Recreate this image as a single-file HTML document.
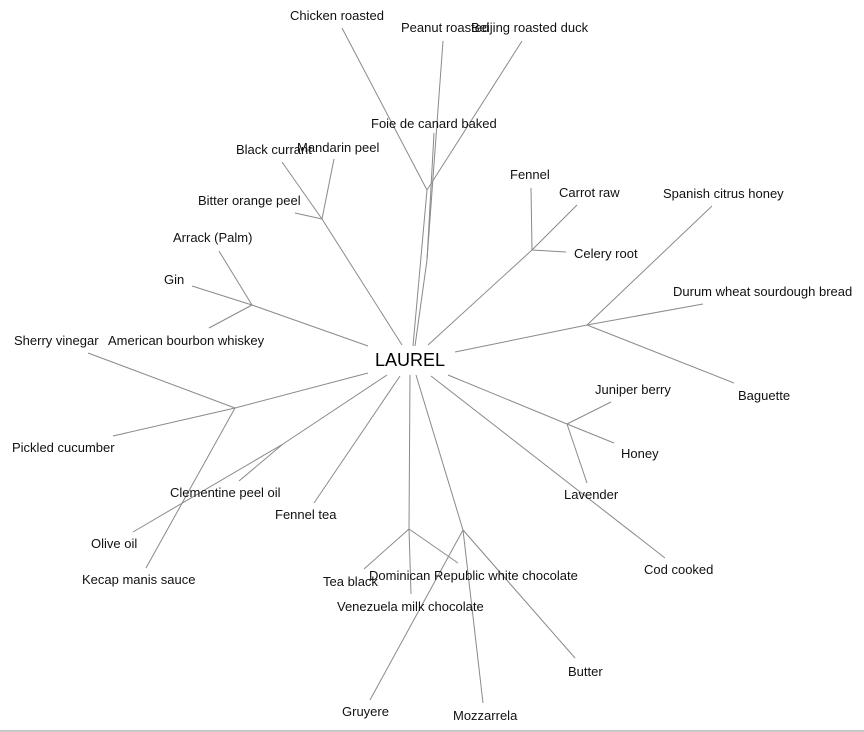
<!DOCTYPE html>
<html>
<head>
<meta charset="utf-8">
<style>
  html, body { margin: 0; padding: 0; background: #ffffff; }
  body { width: 864px; height: 732px; overflow: hidden; }
  svg { display: block; }
  text { font-family: "Liberation Sans", Arial, sans-serif; font-size: 13px; fill: #111; }
  .c { font-size: 18px; fill: #000; }
  line, polyline { stroke: #8a8a8a; stroke-width: 1; fill: none; }
</style>
</head>
<body>
<svg width="864" height="732" viewBox="0 0 864 732" xmlns="http://www.w3.org/2000/svg">
  <rect x="0" y="0" width="864" height="732" fill="#ffffff"/>
  <!-- top group -->
  <line x1="342" y1="28" x2="427" y2="190"/>
  <line x1="522" y1="41" x2="427" y2="190"/>
  <line x1="427" y1="190" x2="413" y2="346"/>
  <line x1="443" y1="41" x2="427" y2="260"/>
  <line x1="434" y1="133" x2="427" y2="260"/>
  <line x1="427" y1="260" x2="415" y2="346"/>
  <!-- mandarin group -->
  <line x1="334" y1="159" x2="322" y2="219"/>
  <line x1="282" y1="162" x2="322" y2="219"/>
  <line x1="295" y1="213" x2="322" y2="219"/>
  <line x1="322" y1="219" x2="402" y2="345"/>
  <!-- gin group -->
  <line x1="192" y1="286" x2="252" y2="305"/>
  <line x1="219" y1="251" x2="252" y2="305"/>
  <line x1="209" y1="328" x2="252" y2="305"/>
  <line x1="252" y1="305" x2="368" y2="346"/>
  <!-- sherry group -->
  <line x1="88" y1="353" x2="235" y2="408"/>
  <line x1="113" y1="436" x2="235" y2="408"/>
  <line x1="146" y1="568" x2="235" y2="408"/>
  <line x1="235" y1="408" x2="368" y2="373"/>
  <!-- clementine -->
  <line x1="387" y1="375" x2="283" y2="444"/>
  <line x1="283" y1="444" x2="133" y2="532"/>
  <line x1="239" y1="481" x2="283" y2="444"/>
  <!-- fennel tea -->
  <line x1="400" y1="376" x2="314" y2="503"/>
  <!-- tea black group -->
  <line x1="410" y1="375" x2="409" y2="529"/>
  <line x1="364" y1="569" x2="409" y2="529"/>
  <line x1="411" y1="594" x2="409" y2="529"/>
  <line x1="458" y1="563" x2="409" y2="529"/>
  <!-- gruyere group -->
  <line x1="416" y1="375" x2="463" y2="530"/>
  <line x1="370" y1="700" x2="463" y2="530"/>
  <line x1="483" y1="703" x2="463" y2="530"/>
  <line x1="575" y1="658" x2="463" y2="530"/>
  <!-- cod -->
  <line x1="431" y1="376" x2="665" y2="558"/>
  <!-- lavender group -->
  <line x1="448" y1="375" x2="567" y2="424"/>
  <line x1="611" y1="402" x2="567" y2="424"/>
  <line x1="614" y1="443" x2="567" y2="424"/>
  <line x1="587" y1="483" x2="567" y2="424"/>
  <!-- durum group -->
  <line x1="455" y1="352" x2="587" y2="325"/>
  <line x1="712" y1="206" x2="587" y2="325"/>
  <line x1="703" y1="304" x2="587" y2="325"/>
  <line x1="734" y1="383" x2="587" y2="325"/>
  <!-- fennel group -->
  <line x1="531" y1="188" x2="532" y2="250"/>
  <line x1="577" y1="205" x2="532" y2="250"/>
  <line x1="566" y1="252" x2="532" y2="250"/>
  <line x1="532" y1="250" x2="428" y2="345"/>

  <!-- center -->
  <text class="c" x="375" y="366">LAUREL</text>

  <!-- labels -->
  <text x="290" y="20">Chicken roasted</text>
  <text x="401" y="32">Peanut roasted</text>
  <text x="471" y="32">Beijing roasted duck</text>
  <text x="371" y="128">Foie de canard baked</text>
  <text x="236" y="154">Black currant</text>
  <text x="297" y="152">Mandarin peel</text>
  <text x="198" y="205">Bitter orange peel</text>
  <text x="173" y="242">Arrack (Palm)</text>
  <text x="164" y="284">Gin</text>
  <text x="14" y="345">Sherry vinegar</text>
  <text x="108" y="345">American bourbon whiskey</text>
  <text x="12" y="452">Pickled cucumber</text>
  <text x="170" y="497">Clementine peel oil</text>
  <text x="275" y="519">Fennel tea</text>
  <text x="91" y="548">Olive oil</text>
  <text x="82" y="584">Kecap manis sauce</text>
  <text x="323" y="586">Tea black</text>
  <text x="369" y="580">Dominican Republic white chocolate</text>
  <text x="337" y="611">Venezuela milk chocolate</text>
  <text x="342" y="716">Gruyere</text>
  <text x="453" y="720">Mozzarrela</text>
  <text x="568" y="676">Butter</text>
  <text x="644" y="574">Cod cooked</text>
  <text x="564" y="499">Lavender</text>
  <text x="621" y="458">Honey</text>
  <text x="595" y="394">Juniper berry</text>
  <text x="738" y="400">Baguette</text>
  <text x="673" y="296">Durum wheat sourdough bread</text>
  <text x="663" y="198">Spanish citrus honey</text>
  <text x="574" y="258">Celery root</text>
  <text x="559" y="197">Carrot raw</text>
  <text x="510" y="179">Fennel</text>

  <!-- bottom border -->
  <rect x="0" y="730" width="864" height="2" fill="#c8c8c8"/>
</svg>
</body>
</html>
